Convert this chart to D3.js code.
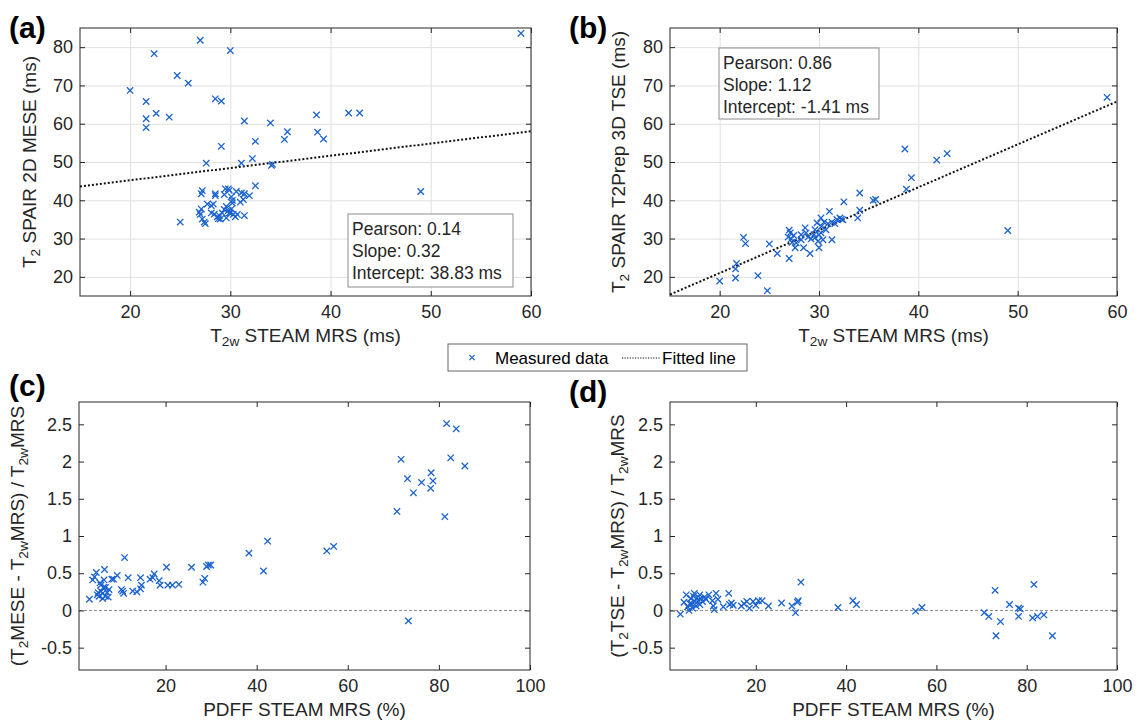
<!DOCTYPE html>
<html lang="en">
<head>
<meta charset="UTF-8">
<title>T2 STEAM MRS comparison</title>
<style>
  body { margin: 0; background: #fff; }
  svg { display: block; font-family: "Liberation Sans", Arial, Helvetica, sans-serif; }
  .tick text { fill: #262626; font-size: 18px; }
  .tick line { stroke: #262626; }
  .grid .tick line { stroke: #e0e0e0; }
  .grid .domain { display: none; }
</style>
</head>
<body>
<svg id="chart" width="1140" height="721"></svg>
<script src="https://d3js.org/d3.v7.min.js"></script>
<script>
// ---- data ----
// (a) T2w STEAM MRS vs T2 SPAIR 2D MESE
const mesePoints = [
  [59.0, 83.6], [27.0, 81.8], [30.0, 79.1], [22.4, 78.3], [24.7, 72.6], [25.8, 70.6],
  [20.0, 68.7], [21.6, 65.8], [28.5, 66.5], [29.1, 65.9], [22.6, 62.7], [23.9, 61.7],
  [21.6, 61.3], [21.6, 59.0], [31.4, 60.7], [34.0, 60.2], [38.6, 62.3], [41.8, 62.8],
  [42.9, 62.8], [35.7, 57.9], [38.7, 57.8], [39.3, 56.0], [35.4, 55.9], [32.5, 55.4],
  [29.1, 54.1], [27.6, 49.7], [31.1, 49.7], [32.2, 50.9], [34.1, 49.1], [34.2, 49.4],
  [49.0, 42.3], [32.5, 43.8], [25.0, 34.3],
  [27.2, 42.5], [27.1, 41.7], [27.7, 39.0], [28.1, 38.6], [28.3, 39.0], [28.5, 41.2],
  [28.5, 41.7], [27.1, 37.7], [26.9, 36.9], [27.0, 36.3], [27.2, 35.1], [27.4, 34.3],
  [27.5, 33.9], [28.1, 36.7], [28.4, 36.4], [28.7, 35.7], [28.8, 35.2], [29.0, 35.1],
  [28.9, 36.0], [29.4, 37.6], [29.2, 36.7], [29.5, 43.0], [29.8, 43.0], [29.9, 42.6],
  [29.6, 38.4], [29.8, 37.3], [29.9, 36.7], [30.1, 40.9], [30.2, 40.0], [30.2, 39.3],
  [30.1, 37.7], [30.0, 36.7], [30.3, 36.3], [30.5, 35.7], [30.6, 42.3], [30.7, 36.3],
  [31.1, 41.9], [31.0, 39.5], [31.3, 40.2], [31.4, 41.7], [31.9, 41.2], [31.4, 36.0],
  [29.6, 35.4], [29.4, 41.5]
];
// (b) T2w STEAM MRS vs T2 SPAIR T2Prep 3D TSE
const tsePoints = [
  [59.0, 66.9], [38.65, 53.4], [41.85, 50.5], [42.9, 52.2], [39.3, 45.9], [38.8, 42.9],
  [34.1, 41.9], [32.5, 39.6], [35.45, 40.0], [35.7, 40.2], [49.0, 32.1], [34.1, 37.4],
  [33.9, 35.4], [31.05, 37.1], [31.3, 29.7], [20.0, 18.9], [21.6, 19.7], [21.6, 22.1],
  [21.7, 23.5], [22.4, 30.3], [22.6, 28.7], [23.85, 20.3], [24.8, 16.4], [25.0, 28.6],
  [25.8, 26.1], [27.0, 24.8], [29.1, 26.1], [30.0, 27.6], [27.6, 27.6], [28.45, 27.6],
  [27.0, 32.2], [27.1, 31.5], [26.9, 30.4], [27.2, 29.9], [27.45, 30.8], [27.7, 28.9],
  [28.2, 29.7], [28.6, 32.8], [28.7, 31.5], [28.9, 30.4], [29.2, 29.9], [29.5, 31.0],
  [29.6, 30.2], [29.8, 34.1], [29.9, 29.3], [30.2, 35.4], [30.25, 33.2], [30.5, 34.3],
  [30.7, 32.3], [30.9, 33.9], [31.3, 34.3], [31.8, 35.0], [32.1, 35.4], [32.25, 35.1],
  [32.4, 34.9], [29.6, 32.3], [30.2, 31.5], [28.2, 31.0], [30.4, 29.7], [30.0, 31.0],
  [31.6, 33.9], [27.3, 29.0]
];
// (c) PDFF STEAM MRS vs relative difference MESE
const meseDiffPoints = [
  [81.7, 2.51], [83.8, 2.44], [82.6, 2.05], [71.7, 2.03], [85.7, 1.94], [78.3, 1.85],
  [73.1, 1.77], [78.7, 1.74], [76.2, 1.72], [78.2, 1.64], [74.4, 1.58], [70.8, 1.33],
  [81.3, 1.26], [73.3, -0.14], [38.3, 0.77], [42.4, 0.93], [41.5, 0.53], [55.4, 0.80],
  [56.9, 0.86], [29.4, 0.61], [29.9, 0.61], [29.0, 0.59], [28.6, 0.43], [28.2, 0.38],
  [25.7, 0.58], [22.9, 0.35], [21.5, 0.34], [20.2, 0.58], [20.5, 0.34], [18.8, 0.34],
  [18.6, 0.40], [17.5, 0.49], [17.2, 0.44], [16.6, 0.42], [14.5, 0.44], [14.5, 0.29],
  [14.7, 0.34], [13.7, 0.25], [12.8, 0.26], [11.8, 0.44], [11.0, 0.71], [10.6, 0.26],
  [10.3, 0.28], [10.8, 0.23], [9.4, 0.47], [8.6, 0.42], [8.2, 0.42], [7.6, 0.28],
  [7.4, 0.18], [7.2, 0.24], [6.8, 0.31], [6.6, 0.55], [6.5, 0.41], [6.2, 0.23],
  [6.2, 0.16], [5.8, 0.34], [5.6, 0.37], [5.4, 0.19], [5.0, 0.21], [4.8, 0.51],
  [4.4, 0.45], [4.0, 0.41], [3.3, 0.15], [5.8, 0.26], [6.8, 0.19], [6.4, 0.31],
  [5.2, 0.24]
];
// (d) PDFF STEAM MRS vs relative difference TSE
const tseDiffPoints = [
  [3.3, -0.05], [4.1, 0.11], [4.6, 0.21], [4.9, 0.05], [5.2, 0.00], [5.6, 0.16],
  [5.8, 0.09], [6.0, 0.03], [6.2, 0.19], [6.5, 0.12], [6.8, 0.06], [7.0, 0.17],
  [7.3, 0.13], [7.6, 0.08], [7.8, 0.16], [8.2, 0.12], [8.6, 0.18], [9.0, 0.15],
  [9.6, 0.21], [10.4, 0.13], [10.6, 0.06], [10.8, 0.01], [11.2, 0.23], [11.6, 0.15],
  [12.8, 0.05], [14.0, 0.23], [14.2, 0.08], [14.6, 0.10], [15.0, 0.07], [16.8, 0.06],
  [17.4, 0.09], [18.0, 0.12], [18.6, 0.03], [19.4, 0.12], [20.0, 0.07], [20.6, 0.13],
  [21.4, 0.13], [22.8, 0.06], [25.7, 0.10], [28.0, 0.06], [28.8, -0.03], [29.2, 0.11],
  [29.4, 0.13], [30.0, 0.38], [38.2, 0.04], [41.5, 0.13], [42.3, 0.08], [55.4, -0.01],
  [56.8, 0.04], [70.6, -0.03], [71.6, -0.08], [73.0, 0.27], [73.2, -0.34], [74.2, -0.15],
  [76.2, 0.08], [78.2, 0.03], [78.6, 0.02], [78.2, -0.08], [81.6, 0.35], [81.3, -0.10],
  [82.4, -0.08], [83.8, -0.06], [85.7, -0.34], [6.4, 0.23], [7.6, 0.21], [5.4, 0.09]
];

const t2xDomain = [15, 60];
const t2yDomain = [15, 85];
const t2xTicks = [20, 30, 40, 50, 60];
const t2yTicks = [20, 30, 40, 50, 60, 70, 80];
const pdffDomain = [1, 100];
const diffDomain = [-0.8, 2.8];
const pdffTicks = [20, 40, 60, 80, 100];
const diffTicks = [-0.5, 0, 0.5, 1, 1.5, 2, 2.5];

const fitMese = { slope: 0.32, intercept: 38.83 };
const fitTse = { slope: 1.12, intercept: -1.41 };
const statsMese = ['Pearson: 0.14', 'Slope: 0.32', 'Intercept: 38.83 ms'];
const statsTse = ['Pearson: 0.86', 'Slope: 1.12', 'Intercept: -1.41 ms'];

// ---- styling ----
const blue = '#1a62cf';
const ink = '#262626';
const crossPath = 'M-3.2,-3.2L3.2,3.2M-3.2,3.2L3.2,-3.2';

const svg = d3.select('#chart');

// build text with subscript pieces: [['T',false],['2w',true],...]
function richText(sel, parts, size) {
  parts.forEach(([s, sub]) => {
    sel.append('tspan')
      .attr('font-size', sub ? size * 0.72 : size)
      .attr('baseline-shift', sub ? '-30%' : null)
      .text(s);
  });
  return sel;
}

const panels = [
  {
    label: '(a)', labelPos: [9, 38],
    box: { left: 80, right: 531, top: 28, bottom: 296 },
    data: mesePoints, xDomain: t2xDomain, yDomain: t2yDomain,
    xTicks: t2xTicks, yTicks: t2yTicks, grid: true, fit: fitMese,
    stats: statsMese, statsBox: { x: 348, y: 214, w: 165, h: 73 },
    xTitle: [['T', false], ['2w', true], [' STEAM MRS (ms)', false]], xTitleY: 342,
    yTitle: [['T', false], ['2', true], [' SPAIR 2D MESE (ms)', false]], yTitleX: 36
  },
  {
    label: '(b)', labelPos: [569, 38],
    box: { left: 670, right: 1117, top: 28, bottom: 296 },
    data: tsePoints, xDomain: t2xDomain, yDomain: t2yDomain,
    xTicks: t2xTicks, yTicks: t2yTicks, grid: true, fit: fitTse,
    stats: statsTse, statsBox: { x: 719, y: 48, w: 160, h: 71 },
    xTitle: [['T', false], ['2w', true], [' STEAM MRS (ms)', false]], xTitleY: 342,
    yTitle: [['T', false], ['2', true], [' SPAIR T2Prep 3D TSE (ms)', false]], yTitleX: 625
  },
  {
    label: '(c)', labelPos: [9, 396],
    box: { left: 79, right: 530, top: 402, bottom: 670 },
    data: meseDiffPoints, xDomain: pdffDomain, yDomain: diffDomain,
    xTicks: pdffTicks, yTicks: diffTicks, grid: false, zeroLine: true,
    xTitle: [['PDFF STEAM MRS (%)', false]], xTitleY: 716,
    yTitle: [['(T', false], ['2', true], ['MESE - T', false], ['2w', true], ['MRS) / T', false], ['2w', true], ['MRS', false]],
    yTitleX: 24
  },
  {
    label: '(d)', labelPos: [569, 402],
    box: { left: 670, right: 1117, top: 402, bottom: 670 },
    data: tseDiffPoints, xDomain: pdffDomain, yDomain: diffDomain,
    xTicks: pdffTicks, yTicks: diffTicks, grid: false, zeroLine: true,
    xTitle: [['PDFF STEAM MRS (%)', false]], xTitleY: 716,
    yTitle: [['(T', false], ['2', true], ['TSE - T', false], ['2w', true], ['MRS) / T', false], ['2w', true], ['MRS', false]],
    yTitleX: 624
  }
];

panels.forEach(p => {
  const b = p.box;
  const w = b.right - b.left, h = b.bottom - b.top;
  const x = d3.scaleLinear().domain(p.xDomain).range([b.left, b.right]);
  const y = d3.scaleLinear().domain(p.yDomain).range([b.bottom, b.top]);
  const g = svg.append('g');

  g.append('rect')
    .attr('x', b.left).attr('y', b.top).attr('width', w).attr('height', h)
    .attr('fill', '#fff');

  // grid
  if (p.grid) {
    g.append('g').attr('class', 'grid')
      .attr('transform', `translate(0,${b.bottom})`)
      .call(d3.axisBottom(x).tickValues(p.xTicks).tickSize(-h).tickFormat(''));
    g.append('g').attr('class', 'grid')
      .attr('transform', `translate(${b.left},0)`)
      .call(d3.axisLeft(y).tickValues(p.yTicks).tickSize(-w).tickFormat(''));
  }

  // zero reference
  if (p.zeroLine) {
    g.append('line')
      .attr('x1', b.left).attr('x2', b.right)
      .attr('y1', y(0)).attr('y2', y(0))
      .attr('stroke', '#6e6e6e').attr('stroke-width', 0.8)
      .attr('stroke-dasharray', '3,2');
  }

  // axes, ticks pointing inward on all four sides
  const fmt = d => String(d);
  const xb = g.append('g').attr('transform', `translate(0,${b.bottom})`)
    .call(d3.axisBottom(x).tickValues(p.xTicks).tickSizeInner(-5).tickSizeOuter(0).tickPadding(9).tickFormat(fmt));
  const yl = g.append('g').attr('transform', `translate(${b.left},0)`)
    .call(d3.axisLeft(y).tickValues(p.yTicks).tickSizeInner(-5).tickSizeOuter(0).tickPadding(7).tickFormat(fmt));
  g.append('g').attr('transform', `translate(0,${b.top})`)
    .call(d3.axisTop(x).tickValues(p.xTicks).tickSizeInner(-5).tickSizeOuter(0).tickFormat(''));
  g.append('g').attr('transform', `translate(${b.right},0)`)
    .call(d3.axisRight(y).tickValues(p.yTicks).tickSizeInner(-5).tickSizeOuter(0).tickFormat(''));
  g.selectAll('.domain').remove();
  xb.selectAll('text').attr('font-family', null);
  yl.selectAll('text').attr('font-family', null);

  g.append('rect')
    .attr('x', b.left).attr('y', b.top).attr('width', w).attr('height', h)
    .attr('fill', 'none').attr('stroke', ink).attr('stroke-width', 1);

  // fitted line
  if (p.fit) {
    const f = v => p.fit.slope * v + p.fit.intercept;
    g.append('line')
      .attr('x1', x(p.xDomain[0])).attr('y1', y(f(p.xDomain[0])))
      .attr('x2', x(p.xDomain[1])).attr('y2', y(f(p.xDomain[1])))
      .attr('stroke', '#111').attr('stroke-width', 2)
      .attr('stroke-dasharray', '2,2');
  }

  // measured points
  g.append('g').selectAll('path')
    .data(p.data)
    .enter().append('path')
    .attr('d', crossPath)
    .attr('transform', d => `translate(${x(d[0])},${y(d[1])})`)
    .attr('stroke', blue).attr('stroke-width', 1.3).attr('fill', 'none');

  // stats box
  if (p.stats) {
    const sb = p.statsBox;
    g.append('rect')
      .attr('x', sb.x).attr('y', sb.y).attr('width', sb.w).attr('height', sb.h)
      .attr('fill', '#fff').attr('stroke', '#8c8c8c').attr('stroke-width', 1);
    p.stats.forEach((s, i) => {
      g.append('text')
        .attr('x', sb.x + 4).attr('y', sb.y + 21 + i * 22)
        .attr('fill', ink).attr('font-size', 17.5)
        .text(s);
    });
  }

  // titles
  richText(g.append('text')
    .attr('x', (b.left + b.right) / 2).attr('y', p.xTitleY)
    .attr('text-anchor', 'middle').attr('fill', ink), p.xTitle, 19);
  richText(g.append('text')
    .attr('transform', `translate(${p.yTitleX},${(b.top + b.bottom) / 2}) rotate(-90)`)
    .attr('text-anchor', 'middle').attr('fill', ink), p.yTitle, 19);

  g.append('text')
    .attr('x', p.labelPos[0]).attr('y', p.labelPos[1])
    .attr('font-size', 30).attr('font-weight', 'bold').attr('fill', '#000')
    .text(p.label);
});

// legend
const leg = svg.append('g');
leg.append('rect')
  .attr('x', 448).attr('y', 344).attr('width', 299).attr('height', 27)
  .attr('fill', '#fff').attr('stroke', '#666').attr('stroke-width', 1);
leg.append('path')
  .attr('d', 'M-2.6,-2.6L2.6,2.6M-2.6,2.6L2.6,-2.6')
  .attr('transform', 'translate(472,357.5)')
  .attr('stroke', blue).attr('stroke-width', 1.2).attr('fill', 'none');
leg.append('text').attr('x', 495).attr('y', 364)
  .attr('font-size', 17).attr('fill', '#000').text('Measured data');
leg.append('line')
  .attr('x1', 622).attr('x2', 660).attr('y1', 358).attr('y2', 358)
  .attr('stroke', '#111').attr('stroke-width', 1.2).attr('stroke-dasharray', '1.2,1.4');
leg.append('text').attr('x', 662).attr('y', 364)
  .attr('font-size', 17).attr('fill', '#000').text('Fitted line');
</script>
</body>
</html>
